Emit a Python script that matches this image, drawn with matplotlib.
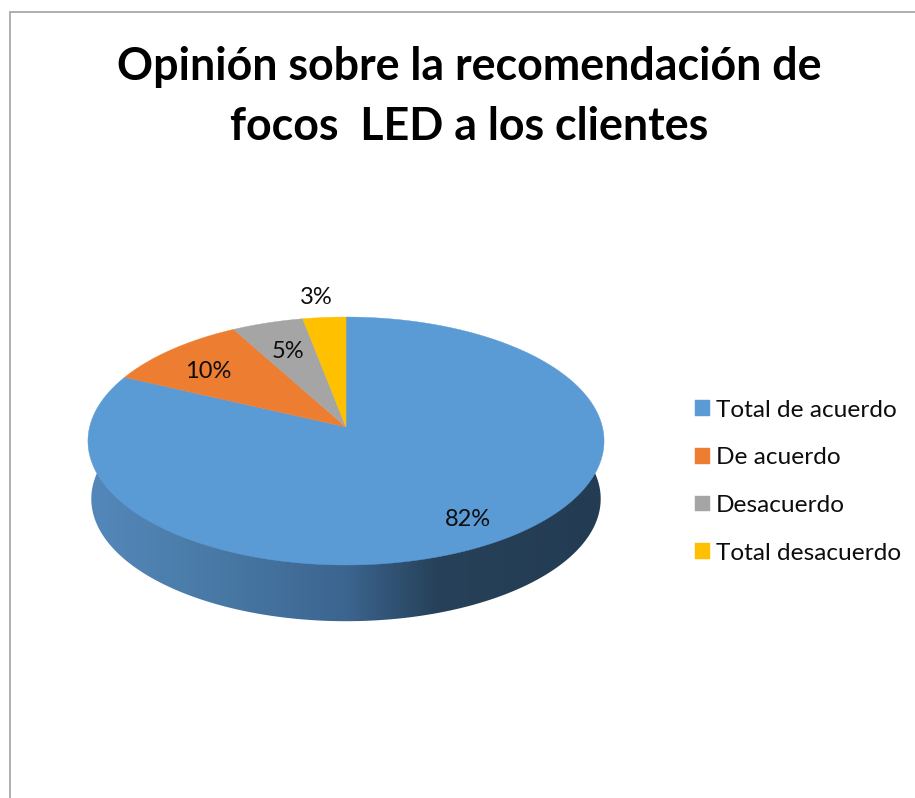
import numpy as np
import matplotlib
matplotlib.use('Agg')
import matplotlib.pyplot as plt
from matplotlib.colors import LinearSegmentedColormap
from matplotlib.patches import Polygon

title = "Opinión sobre la recomendación de\nfocos  LED a los clientes"
categories = ["Total de acuerdo", "De acuerdo", "Desacuerdo", "Total desacuerdo"]
values = [82, 10, 5, 3]
pct_labels = ["82%", "10%", "5%", "3%"]

colors = ["#5b9bd5", "#ed7d31", "#a5a5a5", "#ffc000"]
label_xy = [(468, 520), (208, 372), (288, 352), (316, 297)]

# pie geometry, in pixels of the picture
cx, cy = 346, 427
rx, ry = 256.4, 122.4
persp = 0.113
depth = 58
W, H = 915, 798


def project(angle, r=1.0, scale=1.0, drop=0):
    # angle runs clockwise from 12 o'clock, far side of the disc comes out smaller
    x = r * np.sin(angle)
    y = r * np.cos(angle)
    s = 1 / (1 + persp * y)
    return cx + scale * rx * x * s, cy + drop - scale * ry * y * s


fig = plt.figure(figsize=(W / 100, H / 100), dpi=100)
ax = fig.add_axes([0, 0, 1, 1])
ax.set_xlim(0, W)
ax.set_ylim(H, 0)
ax.axis('off')

# chart frame, the crop cuts it off on the right and at the bottom
ax.plot([9.5, 9.5, W], [H, 12, 12], color="#a9a9a9", lw=1.3, solid_joinstyle='miter')

# side of the disc: gradient clipped to the outline of the base
side_cmap = LinearSegmentedColormap.from_list("side", [
    (0.0, "#5488ba"), (0.22, "#4a7ba8"), (0.5, "#3c6590"),
    (0.68, "#264159"), (1.0, "#233c53")])
grad = np.linspace(0, 1, 512).reshape(1, -1)
img = ax.imshow(grad, cmap=side_cmap, extent=[90, 601, 630, 430], aspect='auto', zorder=1)
ax.set_xlim(0, W)
ax.set_ylim(H, 0)
t = np.linspace(np.pi / 2 - 0.11, 3 * np.pi / 2 + 0.11, 200)
bx, by = project(t, scale=0.987, drop=depth)
# walls go straight up from the widest points of the base, the top surface hides the rest
outline = np.column_stack([np.r_[bx[0], bx, bx[-1]], np.r_[cy + 14, by, cy + 14]])
side_clip = Polygon(outline, closed=True, transform=ax.transData)
img.set_clip_path(side_clip)

# top surface, slices clockwise from 12 o'clock
edges = np.cumsum([0] + values) / np.sum(values) * 2 * np.pi
handles = []
for i in range(len(values)):
    a = np.linspace(edges[i], edges[i + 1], 300)
    px, py = project(a)
    px = np.concatenate([[cx], px])
    py = np.concatenate([[cy], py])
    h = ax.fill(px, py, color=colors[i], lw=0.3, zorder=2)[0]
    handles.append(h)

for lab, (lx, ly) in zip(pct_labels, label_xy):
    ax.text(lx, ly, lab, fontsize=17, family="Lato", color="#0d0d0d",
            ha='center', va='center', zorder=3)

ax.text(469, 97, title, fontsize=32.2, family="Lato", fontweight='bold', color="black",
        ha='center', va='center', linespacing=1.53)

fig.legend(handles, categories, loc='upper left', bbox_to_anchor=(688 / W, 1 - 392.5 / H),
           frameon=False, prop={'family': 'Lato', 'size': 17.6},
           handlelength=0.6, handleheight=0.6, handletextpad=0.25, labelspacing=1.09,
           borderpad=0.3, borderaxespad=0, labelcolor="#0d0d0d")

fig.savefig("out.png", dpi=100)
